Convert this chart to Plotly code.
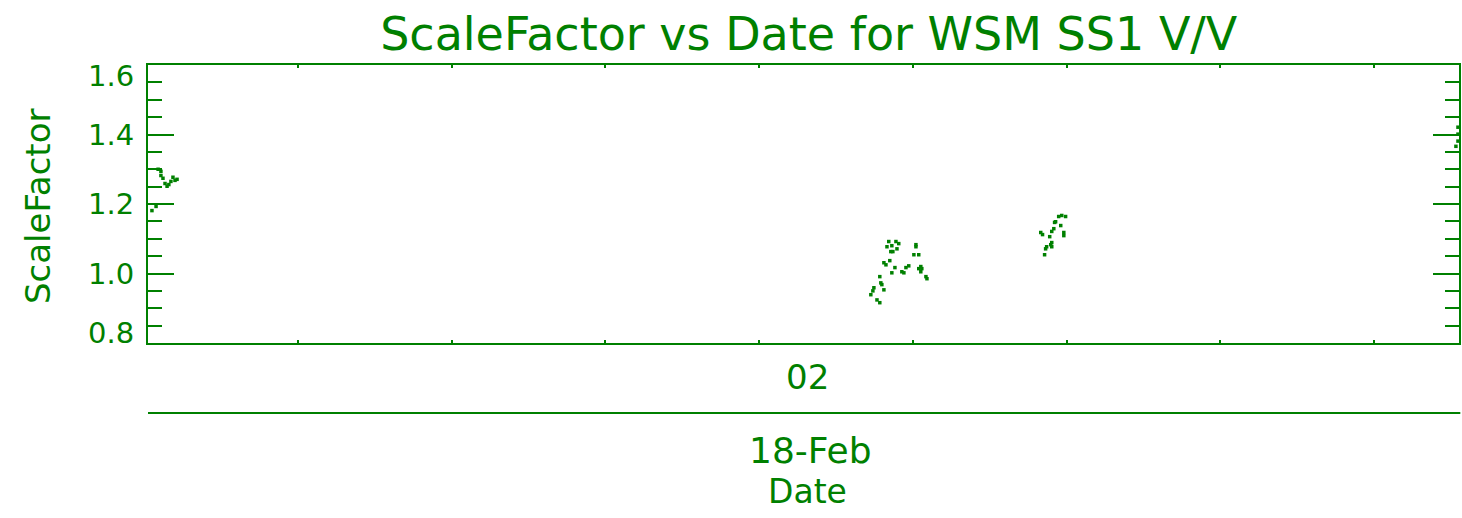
import plotly.graph_objects as go

GREEN = "#008000"
FONT = "DejaVu Sans"

# Scale factor samples on 18-Feb (time stamps, value)
times = [
    "2002-02-18 01:20:31", "2002-02-18 01:20:47", "2002-02-18 01:20:55",
    "2002-02-18 01:21:06", "2002-02-18 01:21:06", "2002-02-18 01:21:14",
    "2002-02-18 01:21:22", "2002-02-18 01:21:30", "2002-02-18 01:21:37",
    "2002-02-18 01:21:45", "2002-02-18 01:21:53", "2002-02-18 01:22:01",
    "2002-02-18 01:22:09",
    "2002-02-18 02:07:16", "2002-02-18 02:07:24", "2002-02-18 02:07:28",
    "2002-02-18 02:07:40", "2002-02-18 02:07:51", "2002-02-18 02:07:51",
    "2002-02-18 02:07:55", "2002-02-18 02:07:59", "2002-02-18 02:08:07",
    "2002-02-18 02:08:07", "2002-02-18 02:08:15", "2002-02-18 02:08:19",
    "2002-02-18 02:08:26", "2002-02-18 02:08:30", "2002-02-18 02:08:34",
    "2002-02-18 02:08:38", "2002-02-18 02:08:38", "2002-02-18 02:08:42",
    "2002-02-18 02:08:50", "2002-02-18 02:08:54", "2002-02-18 02:08:58",
    "2002-02-18 02:09:05", "2002-02-18 02:09:17", "2002-02-18 02:09:25",
    "2002-02-18 02:09:33", "2002-02-18 02:09:44", "2002-02-18 02:10:04",
    "2002-02-18 02:10:12", "2002-02-18 02:10:12", "2002-02-18 02:10:23",
    "2002-02-18 02:10:23", "2002-02-18 02:10:31", "2002-02-18 02:10:31",
    "2002-02-18 02:10:35", "2002-02-18 02:10:51", "2002-02-18 02:10:55",
    "2002-02-18 02:18:19", "2002-02-18 02:18:26", "2002-02-18 02:18:34",
    "2002-02-18 02:18:38", "2002-02-18 02:18:42", "2002-02-18 02:18:54",
    "2002-02-18 02:18:58", "2002-02-18 02:19:02", "2002-02-18 02:19:02",
    "2002-02-18 02:19:02", "2002-02-18 02:19:10", "2002-02-18 02:19:13",
    "2002-02-18 02:19:17", "2002-02-18 02:19:29", "2002-02-18 02:19:37",
    "2002-02-18 02:19:41", "2002-02-18 02:19:49", "2002-02-18 02:19:49",
    "2002-02-18 02:19:56",
    "2002-02-18 02:45:19", "2002-02-18 02:45:27", "2002-02-18 02:45:27",
    "2002-02-18 02:45:27",
]
scale_factor = [
    1.181, 1.193, 1.300,
    1.294, 1.282, 1.274,
    1.259, 1.251, 1.256,
    1.265, 1.277, 1.268,
    1.271,
    0.939, 0.950, 0.959,
    0.924, 0.991, 0.916,
    0.973, 0.968, 0.953,
    1.031, 1.025, 1.077,
    1.092, 1.037, 1.063,
    1.080, 1.002, 1.063,
    1.017, 1.092, 1.071,
    1.086, 1.005, 1.002,
    1.017, 1.022, 1.054,
    1.083, 1.077, 1.054,
    1.014, 1.020, 1.005,
    1.014, 0.991, 0.985,
    1.118, 1.112, 1.054,
    1.071, 1.077, 1.106,
    1.083, 1.089, 1.077,
    1.121, 1.129, 1.147,
    1.149, 1.164, 1.138,
    1.167, 1.118, 1.109,
    1.164,
    1.366, 1.421, 1.401,
    1.381,
]

x_range = ["2002-02-18 01:20:15.6", "2002-02-18 02:45:31"]
x_tick_times = [
    "2002-02-18 01:30", "2002-02-18 01:40", "2002-02-18 01:50",
    "2002-02-18 02:00", "2002-02-18 02:10", "2002-02-18 02:20",
    "2002-02-18 02:30", "2002-02-18 02:40",
]
hour_label = "02"
day_label = "18-Feb"

y_range = [0.8, 1.6]
y_tick_vals = [0.8, 1.0, 1.2, 1.4, 1.6]
y_tick_text = ["0.8", "1.0", "1.2", "1.4", "1.6"]

fig = go.Figure()
fig.add_trace(go.Scatter(
    x=times, y=scale_factor, mode="markers",
    marker=dict(color=GREEN, size=3.5, symbol="square", line=dict(width=0)),
    showlegend=False, cliponaxis=False,
))

fig.update_xaxes(
    type="date", range=x_range,
    tickmode="array", tickvals=x_tick_times, ticktext=[""] * len(x_tick_times),
    ticks="inside", ticklen=3, tickwidth=2, tickcolor=GREEN,
    showline=True, linecolor=GREEN, linewidth=2, mirror="ticks",
    showgrid=False, zeroline=False, showticklabels=False,
)
fig.update_yaxes(
    range=y_range,
    tickmode="array", tickvals=y_tick_vals,
    ticks="inside", ticklen=26, tickwidth=2, tickcolor=GREEN,
    minor=dict(dtick=0.05, tick0=0.8, ticks="inside", ticklen=14,
               tickwidth=2, tickcolor=GREEN, showgrid=False),
    showline=True, linecolor=GREEN, linewidth=2, mirror="ticks",
    showgrid=False, zeroline=False, showticklabels=False,
)

annotations = []
# y tick labels, kept inside the frame at the ends
for v, t in zip(y_tick_vals, y_tick_text):
    shift = 0
    if v == y_range[0]:
        shift = 10
    elif v == y_range[1]:
        shift = -11
    annotations.append(dict(
        x=0, xref="paper", y=v, yref="y", text=t, showarrow=False,
        xanchor="right", yanchor="middle", xshift=-12, yshift=shift,
        font=dict(family=FONT, size=29, color=GREEN),
    ))
annotations += [
    dict(x=-0.0838, xref="paper", y=0.493, yref="paper", text="ScaleFactor",
         textangle=-90, showarrow=False, xanchor="center", yanchor="middle",
         font=dict(family=FONT, size=34, color=GREEN)),
    dict(x=0.5027, xref="paper", y=-0.122, yref="paper", text=hour_label,
         showarrow=False, xanchor="center", yanchor="middle",
         font=dict(family=FONT, size=34, color=GREEN)),
    dict(x=0.505, xref="paper", y=-0.385, yref="paper", text=day_label,
         showarrow=False, xanchor="center", yanchor="middle",
         font=dict(family=FONT, size=36, color=GREEN)),
    dict(x=0.503, xref="paper", y=-0.533, yref="paper", text="Date",
         showarrow=False, xanchor="center", yanchor="middle",
         font=dict(family=FONT, size=33, color=GREEN)),
]

fig.update_layout(
    width=1462, height=518,
    margin=dict(l=148, r=1, t=65, b=175),
    paper_bgcolor="white", plot_bgcolor="white",
    title=dict(text="ScaleFactor vs Date for WSM SS1 V/V",
               x=0.504, xref="paper", xanchor="center",
               y=0.935, yref="container", yanchor="middle",
               font=dict(family=FONT, size=46, color=GREEN)),
    annotations=annotations,
    shapes=[dict(type="line", xref="paper", yref="paper",
                 x0=0, x1=1.001, y0=-0.2518, y1=-0.2518,
                 line=dict(color=GREEN, width=2))],
)

fig.write_html("out.html")
